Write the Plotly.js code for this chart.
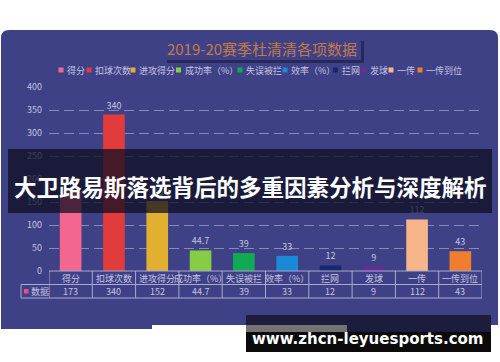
<!DOCTYPE html>
<html>
<head>
<meta charset="utf-8">
<script src="https://cdn.plot.ly/plotly-3.0.1.min.js"></script>
<style>
  html, body { margin: 0; padding: 0; background: #ffffff; }
  #chart { width: 500px; height: 362px; }
</style>
</head>
<body>
<div id="chart"></div>
<script>
// ---- data ----
const categories = ['得分', '扣球次数', '进攻得分', '成功率（%）', '失误被拦', '效率（%）', '拦网', '发球', '一传', '一传到位'];
const values = [173, 340, 152, 44.7, 39, 33, 12, 9, 112, 43];
const yTickValues = [0, 50, 100, 150, 200, 250, 300, 350, 400];
const seriesName = '数据';
const chartTitle = '2019-20赛季杜清清各项数据';
const bannerText = '大卫路易斯落选背后的多重因素分析与深度解析';
const siteText = 'www.zhcn-leyuesports.com';

// ---- styles ----
const barColors = ['#f3668f', '#e23b3b', '#e2b030', '#86cc45', '#0faa52', '#1b8ad6', '#16296f', '#6b2a99', '#f7b68a', '#ef7f2e'];
const FONT = '"Noto Sans CJK SC", "Noto Sans", sans-serif';
const PANEL = '#3f4186';
const TXT = '#c4c4e0';
const LINE = '#a9a9d2';
const W = 500, H = 362;
const legendLeft = [58.5, 86.5, 130.5, 176, 237.5, 282.5, 333, 361, 388.5, 417.5];

const X = px => px / W;
const Y = py => 1 - py / H;
const P = (x, y) => X(x) + ',' + Y(y);

const traces = categories.map((c, i) => ({
  type: 'bar',
  name: c,
  x: [c],
  y: [values[i]],
  width: 0.5,
  marker: { color: barColors[i] },
  text: [String(values[i])],
  textposition: 'outside',
  textfont: { family: FONT, size: 9, color: TXT },
  cliponaxis: false,
  hoverinfo: 'skip'
}));

const shapes = [];
const annotations = [];

// panel (rounded top corners, jagged screenshot bottom)
const r = 8;
shapes.push({
  type: 'path', xref: 'paper', yref: 'paper', layer: 'below', line: { width: 0 }, fillcolor: PANEL,
  path: 'M' + P(1, 30 + r) + ' Q' + P(1, 30) + ' ' + P(1 + r, 30) +
        ' L' + P(498 - r, 30) + ' Q' + P(498, 30) + ' ' + P(498, 30 + r) +
        ' L' + P(498, 325) + ' L' + P(152, 325) + ' L' + P(152, 329) + ' L' + P(1, 329) + ' Z'
});
// title box with drop shadow
shapes.push({ type: 'rect', xref: 'paper', yref: 'paper', layer: 'below', line: { width: 0 },
  x0: X(167), x1: X(364), y0: Y(63), y1: Y(41), fillcolor: 'rgba(22,22,55,0.55)' });
shapes.push({ type: 'rect', xref: 'paper', yref: 'paper', layer: 'below', line: { width: 0 },
  x0: X(164), x1: X(361), y0: Y(60), y1: Y(38), fillcolor: PANEL });

// legend (manual)
categories.forEach((c, i) => {
  shapes.push({ type: 'rect', xref: 'paper', yref: 'paper', line: { width: 0 }, fillcolor: barColors[i],
    x0: X(legendLeft[i]), x1: X(legendLeft[i] + 5), y0: Y(72.5), y1: Y(67.5) });
  annotations.push({ xref: 'paper', yref: 'paper', x: X(legendLeft[i] + 6.5), y: Y(70), xanchor: 'left', yanchor: 'middle',
    text: c, showarrow: false, font: { family: FONT, size: 9, color: TXT } });
});

// data table
const tTop = 271, tMid = 284.5, tBot = 298;
shapes.push({ type: 'line', xref: 'x', yref: 'paper', x0: -0.5, x1: categories.length - 0.5, y0: Y(tTop), y1: Y(tTop), line: { color: LINE, width: 1 } });
shapes.push({ type: 'line', xref: 'paper', yref: 'paper', x0: X(21), x1: X(482), y0: Y(tMid), y1: Y(tMid), line: { color: LINE, width: 1 } });
shapes.push({ type: 'line', xref: 'paper', yref: 'paper', x0: X(21), x1: X(482), y0: Y(tBot), y1: Y(tBot), line: { color: LINE, width: 1 } });
shapes.push({ type: 'line', xref: 'paper', yref: 'paper', x0: X(21), x1: X(21), y0: Y(tMid), y1: Y(tBot), line: { color: LINE, width: 1 } });
for (let i = 0; i <= categories.length; i++) {
  shapes.push({ type: 'line', xref: 'x', yref: 'paper', x0: i - 0.5, x1: i - 0.5, y0: Y(tTop), y1: Y(tBot), line: { color: LINE, width: 1 } });
}
categories.forEach((c, i) => {
  // header cell
  annotations.push({ xref: 'x', yref: 'paper', x: c, y: Y(278), xanchor: 'center', yanchor: 'middle',
    text: c, showarrow: false, font: { family: FONT, size: 9, color: TXT } });
  // value cell
  annotations.push({ xref: 'x', yref: 'paper', x: c, y: Y(291.5), xanchor: 'center', yanchor: 'middle',
    text: String(values[i]), showarrow: false, font: { family: FONT, size: 9, color: TXT } });
});
shapes.push({ type: 'rect', xref: 'paper', yref: 'paper', line: { width: 0 }, fillcolor: '#ee4f7a',
  x0: X(24), x1: X(28.5), y0: Y(293.5), y1: Y(289) });
annotations.push({ xref: 'paper', yref: 'paper', x: X(29), y: Y(291.5), xanchor: 'left', yanchor: 'middle',
  text: seriesName, showarrow: false, font: { family: FONT, size: 9, color: TXT } });

// banner overlay
shapes.push({ type: 'rect', xref: 'paper', yref: 'paper', layer: 'above', line: { width: 0 },
  x0: X(8), x1: X(492), y0: Y(213), y1: Y(149), fillcolor: 'rgba(14,14,32,0.74)' });
annotations.push({ xref: 'paper', yref: 'paper', x: X(250), y: Y(186), xanchor: 'center', yanchor: 'middle',
  text: '<b>' + bannerText + '</b>', showarrow: false, font: { family: FONT, size: 22.5, color: '#ffffff' } });

// watermark
shapes.push({ type: 'rect', xref: 'paper', yref: 'paper', layer: 'above', line: { width: 0 },
  x0: X(347), x1: X(491), y0: Y(332), y1: Y(325), fillcolor: PANEL });
shapes.push({ type: 'rect', xref: 'paper', yref: 'paper', layer: 'above', line: { width: 0 },
  x0: X(246), x1: X(491), y0: Y(332), y1: Y(315), fillcolor: 'rgba(0,0,0,0.55)' });
shapes.push({ type: 'rect', xref: 'paper', yref: 'paper', layer: 'above', line: { width: 0 },
  x0: X(246), x1: X(491), y0: Y(352), y1: Y(332), fillcolor: '#0a0a0a' });
annotations.push({ xref: 'paper', yref: 'paper', x: X(367.5), y: Y(339), xanchor: 'center', yanchor: 'middle',
  text: '<b>' + siteText + '</b>', showarrow: false, font: { family: '"DejaVu Sans", sans-serif', size: 15, color: '#ffffff' } });

const layout = {
  width: W, height: H,
  margin: { l: 0, r: 0, t: 0, b: 0 },
  paper_bgcolor: '#ffffff',
  plot_bgcolor: 'rgba(0,0,0,0)',
  showlegend: false,
  barmode: 'overlay',
  title: {
    text: chartTitle, x: X(262), xanchor: 'center', y: Y(49.5), yanchor: 'middle', yref: 'container',
    font: { family: FONT, size: 15, color: '#c47a48' }
  },
  xaxis: {
    domain: [X(49), X(482)],
    range: [-0.5, categories.length - 0.5],
    type: 'category',
    categoryarray: categories,
    showgrid: false, zeroline: false, showline: false, ticks: '',
    showticklabels: false,
    fixedrange: true
  },
  yaxis: {
    domain: [Y(tTop), Y(87)],
    range: [0, 400],
    tickvals: yTickValues,
    showgrid: true,
    gridcolor: 'rgba(185,185,222,0.6)',
    griddash: '10px,5px',
    gridwidth: 1,
    zeroline: false, showline: false, ticks: '',
    tickfont: { family: FONT, size: 9, color: TXT },
    ticklabelstandoff: 6,
    fixedrange: true
  },
  shapes: shapes,
  annotations: annotations
};

Plotly.newPlot('chart', traces, layout, { staticPlot: true, displayModeBar: false });
</script>
</body>
</html>
